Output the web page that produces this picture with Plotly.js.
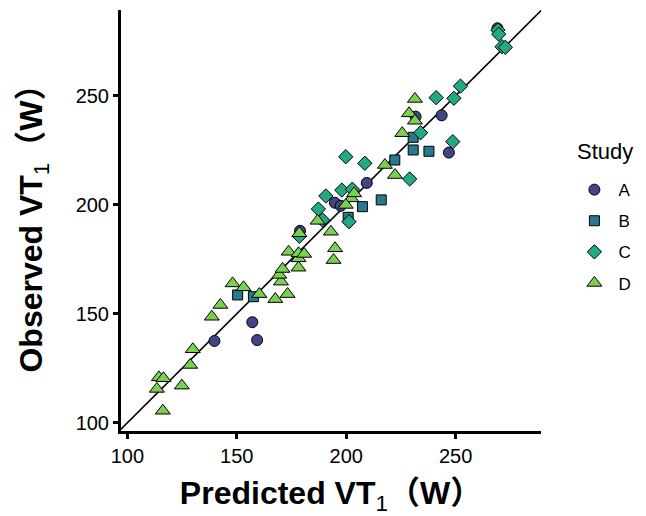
<!DOCTYPE html>
<html><head><meta charset="utf-8">
<script src="https://cdn.plot.ly/plotly-3.0.1.min.js"></script>
<style>body{margin:0;padding:0;background:#fff}</style>
</head><body>
<div id="chart" style="width:646px;height:516px"></div>
<script>
const studies = ["A","B","C","D"];
const legendTitle = "Study";
const colors = ["#414487","#2A788E","#22A884","#7AD151"];
const symbols = ["circle","square","diamond","triangle-up"];
const sizes = [11,10,11,13];

const predA = [139.8,157.1,159.3,178.9,194.8,197.5,209.4,231.7,243.6,246.9,269.1];
const obsA  = [137.5,146.1,137.9,188.0,200.9,199.5,210.0,240.4,241.0,223.9,280.9];

const predB = [150.4,157.6,200.9,207.4,216.0,222.2,230.6,230.6,237.8];
const obsB  = [158.6,157.8,194.2,199.1,202.2,220.5,230.9,225.1,224.5];

const predC = [269.3,269.7,271.2,272.7,252.2,249.2,241.1,234.0,248.7,229.0,199.8,208.5,190.7,198.0,202.8,187.3,201.3,189.2,178.6];
const obsC  = [280.1,278.2,272.5,272.2,254.4,248.8,249.1,233.0,228.9,211.8,222.0,219.0,204.0,206.7,207.1,198.0,192.2,193.0,185.5];

const predD = [142.5,138.6,129.9,128.7,114.4,116.5,113.5,124.9,116.2,148.1,153.1,160.3,167.6,173.2,170.2,169.4,170.9,178.2,173.7,178.2,178.2,180.8,178.6,186.9,193.0,194.9,194.2,202.4,203.6,199.8,217.7,222.3,231.4,228.7,231.4,225.6];
const obsD  = [154.0,148.6,133.7,126.5,120.8,120.4,115.5,117.0,105.5,163.9,162.1,159.0,156.7,159.0,164.7,167.8,170.5,171.1,178.4,175.4,177.7,177.4,186.9,192.6,187.6,180.0,174.6,202.9,205.2,199.9,218.2,213.6,248.5,241.9,238.5,232.8];

const xRange = [97.1, 289];
const yRange = [96.2, 289.3];
const xTicks = [100,150,200,250];
const yTicks = [100,150,200,250];

const preds = [predA,predB,predC,predD];
const obs = [obsA,obsB,obsC,obsD];

const lo = Math.min(xRange[0], yRange[0]), hi = Math.max(xRange[1], yRange[1]);
const traces = [{
  x:[lo,hi], y:[lo,hi], mode:"lines", type:"scatter",
  line:{color:"#000", width:1.6}, showlegend:false, hoverinfo:"skip", cliponaxis:true
}];
studies.forEach((s,i)=>{
  traces.push({
    x:preds[i], y:obs[i], name:s, type:"scatter", mode:"markers",
    legendgroup:s,
    marker:{symbol:symbols[i], size:sizes[i], color:colors[i], line:{color:"#000", width:1}},
    cliponaxis:false
  });
});

const fontFam = "Liberation Sans, Arial, Noto Sans CJK SC, sans-serif";
const layout = {
  width:646, height:516,
  margin:{l:121, r:103, t:10, b:85},
  paper_bgcolor:"#fff", plot_bgcolor:"#fff",
  font:{family:fontFam, color:"#000", size:16},
  xaxis:{
    range:xRange, tickvals:xTicks, ticktext:xTicks.map(String),
    showgrid:false, zeroline:false, showline:true, linecolor:"#000", linewidth:3,
    ticks:"outside", ticklen:5, tickwidth:3, tickcolor:"#000",
    tickfont:{size:20, color:"#000"},
    title:{text:"<b>Predicted VT</b><sub>1</sub><b>（W）</b>", font:{size:32, color:"#000", family:fontFam}, standoff:17}
  },
  yaxis:{
    range:yRange, tickvals:yTicks, ticktext:yTicks.map(String),
    showgrid:false, zeroline:false, showline:true, linecolor:"#000", linewidth:3,
    ticks:"outside", ticklen:5, tickwidth:3, tickcolor:"#000",
    tickfont:{size:20, color:"#000"},
    title:{text:"<b>Observed VT</b><sub>1</sub><b>（W）</b>", font:{size:32, color:"#000", family:fontFam}, standoff:24}
  },
  legend:{
    x:1.07, xanchor:"left", y:0.615, yanchor:"top",
    font:{size:17, color:"#000"},
    itemwidth:38,
    tracegroupgap:6, bgcolor:"rgba(0,0,0,0)"
  },
  annotations:[{
    text:legendTitle, xref:"paper", yref:"paper", x:1.08, y:0.663,
    xanchor:"left", yanchor:"middle", showarrow:false, font:{size:22, color:"#000"}
  }],
  showlegend:true
};
Plotly.newPlot("chart", traces, layout, {displayModeBar:false, staticPlot:true});
</script>
</body></html>
